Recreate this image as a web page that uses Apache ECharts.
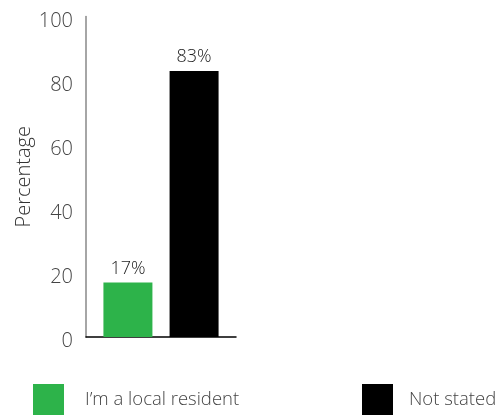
<!DOCTYPE html>
<html>
<head>
<meta charset="utf-8">
<script src="https://cdn.jsdelivr.net/npm/echarts@6/dist/echarts.min.js"></script>
<style>
	html, body { margin: 0; padding: 0; background: #fff; }
	#chart { width: 499px; height: 415px; }
</style>
</head>
<body>
<div id="chart"></div>
<script>
	var seriesNames = ["I\u2019m a local resident", "Not stated"];
	var seriesValues = [17, 83];
	var seriesColors = ["#2db34a", "#000000"];
	var yTicks = [0, 20, 40, 60, 80, 100];

	var font = "Open Sans";
	var seriesArr = [];
	for (var i = 0; i < seriesNames.length; i++) {
		seriesArr.push({
			name: seriesNames[i],
			type: 'bar',
			data: [seriesValues[i]],
			barWidth: 49,
			barGap: '35%',
			itemStyle: { color: seriesColors[i] },
			label: {
				show: true,
				position: 'top',
				distance: 5,
				formatter: '{c}%',
				color: '#222',
				fontFamily: font,
				fontWeight: 300,
				fontSize: 18
			}
		});
	}

	function legendAt(left, name, gap) {
		return {
			left: left,
			top: 384,
			padding: 0,
			itemWidth: 31,
			itemHeight: 31,
			icon: 'rect',
			data: [name],
			selectedMode: false,
			textStyle: {
				color: '#444',
				fontFamily: font,
				fontWeight: 300,
				fontSize: 18.5,
				padding: [0, 0, 0, gap]
			}
		};
	}

	var chart = echarts.init(document.getElementById('chart'));
	chart.setOption({
		animation: false,
		grid: { left: 86, right: 263, top: 16.5, bottom: 78 },
		legend: [legendAt(33, seriesNames[0], 16), legendAt(362, seriesNames[1], 11)],
		xAxis: {
			type: 'category',
			data: [''],
			axisLine: { lineStyle: { color: '#000', width: 1.5 } },
			axisTick: { show: false },
			axisLabel: { show: false }
		},
		yAxis: {
			type: 'value',
			min: yTicks[0],
			max: yTicks[yTicks.length - 1],
			interval: 20,
			name: 'Percentage',
			nameLocation: 'middle',
			nameGap: 52,
			nameTextStyle: { color: '#333', fontFamily: font, fontWeight: 300, fontSize: 20 },
			axisLine: { show: true, lineStyle: { color: '#888', width: 1.5 } },
			axisTick: { show: false },
			splitLine: { show: false },
			axisLabel: {
				margin: 13,
				// blank line on top pushes the number a few pixels below its tick
				formatter: function (v) { return '{s| }\n{v|' + v + '}'; },
				rich: {
					s: { fontSize: 1, lineHeight: 9 },
					v: { color: '#444', fontFamily: font, fontWeight: 300, fontSize: 20, lineHeight: 22 }
				}
			}
		},
		series: seriesArr
	});
</script>
</body>
</html>
